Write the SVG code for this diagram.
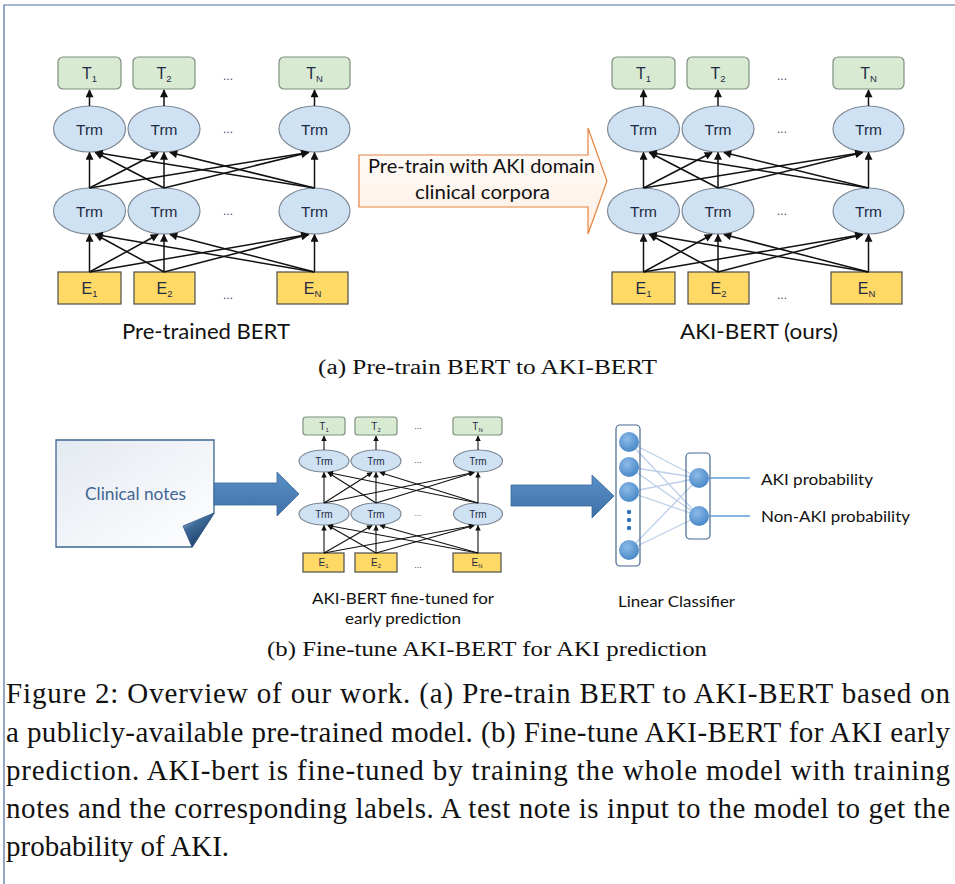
<svg xmlns="http://www.w3.org/2000/svg" width="955" height="884" viewBox="0 0 955 884">
<defs>
<style>
.trm{fill:#cfe2f3;stroke:#7d8894;stroke-width:1.2}
.tbox{fill:#d9ead3;stroke:#7f8f7f;stroke-width:1.2}
.ebox{fill:#ffd966;stroke:#4d4d4d;stroke-width:1.2}
.lbl{font-family:'Liberation Sans',Arial,sans-serif;fill:#1f2a44;text-anchor:middle}
.dots{font-family:'Liberation Sans',Arial,sans-serif;fill:#3a4560;text-anchor:middle}
.con{stroke:#111;stroke-width:1.5;fill:none;marker-end:url(#ah)}
.cons{stroke:#111;stroke-width:1.1;fill:none;marker-end:url(#ahs)}
.cal{font-family:Lato,'Open Sans',sans-serif;fill:#111}
.ser{font-family:'Liberation Serif','Times New Roman',serif;fill:#111}
.nn{fill:url(#nodeGrad)}
.edge{stroke:#bcd0ea;stroke-width:1.3}
.out{stroke:#5b9bd5;stroke-width:1.6}
.barrow{fill:url(#blueGrad);stroke:#3a679a;stroke-width:0.8}
</style>
<marker id="ah" viewBox="0 0 10 10" refX="9" refY="5" markerWidth="9" markerHeight="8" orient="auto" markerUnits="userSpaceOnUse"><path d="M0,0 L10,5 L0,10 z" fill="#111"/></marker>
<marker id="ahs" viewBox="0 0 10 10" refX="9" refY="5" markerWidth="6.5" markerHeight="5.5" orient="auto" markerUnits="userSpaceOnUse"><path d="M0,0 L10,5 L0,10 z" fill="#111"/></marker>
<linearGradient id="orangeFill" x1="0" y1="0" x2="0" y2="1"><stop offset="0" stop-color="#ffffff"/><stop offset="1" stop-color="#fdeee2"/></linearGradient>
<linearGradient id="noteFill" x1="0" y1="0" x2="1" y2="1"><stop offset="0" stop-color="#e4e9f1"/><stop offset="1" stop-color="#ffffff"/></linearGradient>
<linearGradient id="foldFill" x1="0" y1="0" x2="0.6" y2="1"><stop offset="0" stop-color="#dfe8f2"/><stop offset="0.4" stop-color="#3f6c9c"/><stop offset="1" stop-color="#1a3a5e"/></linearGradient>
<linearGradient id="blueGrad" x1="0" y1="0" x2="0" y2="1"><stop offset="0" stop-color="#5a8fc7"/><stop offset="1" stop-color="#3e71a7"/></linearGradient>
<radialGradient id="nodeGrad" cx="0.4" cy="0.35" r="0.7"><stop offset="0" stop-color="#8dbbe8"/><stop offset="1" stop-color="#4585c6"/></radialGradient>
</defs>
<rect width="955" height="884" fill="#fff"/>
<path d="M4,884 V5 H955" fill="none" stroke="#4f6f9f" stroke-width="1.2"/>

<!-- ===== (a) left BERT ===== -->
<g id="a-left-T1"><rect class="tbox" x="58" y="57" width="63" height="32" rx="5"/><text class="lbl" x="89.5" y="79" font-size="16">T<tspan font-size="9.5" dy="3">1</tspan></text></g>
<g id="a-left-T2"><rect class="tbox" x="133" y="57" width="62" height="32" rx="5"/><text class="lbl" x="164" y="79" font-size="16">T<tspan font-size="9.5" dy="3">2</tspan></text></g>
<g id="a-left-TN"><rect class="tbox" x="279" y="57" width="71" height="32" rx="5"/><text class="lbl" x="314.5" y="79" font-size="16">T<tspan font-size="9.5" dy="3">N</tspan></text></g>
<g id="a-left-up1"><ellipse class="trm" cx="89.5" cy="129" rx="36" ry="23"/><text class="lbl" x="89.5" y="134.5" font-size="15.5">Trm</text></g>
<g id="a-left-up2"><ellipse class="trm" cx="164" cy="129" rx="36" ry="23"/><text class="lbl" x="164" y="134.5" font-size="15.5">Trm</text></g>
<g id="a-left-upN"><ellipse class="trm" cx="314.5" cy="129" rx="35.5" ry="23"/><text class="lbl" x="314.5" y="134.5" font-size="15.5">Trm</text></g>
<g id="a-left-lo1"><ellipse class="trm" cx="89.5" cy="211" rx="36" ry="23"/><text class="lbl" x="89.5" y="216.5" font-size="15.5">Trm</text></g>
<g id="a-left-lo2"><ellipse class="trm" cx="164" cy="211" rx="36" ry="23"/><text class="lbl" x="164" y="216.5" font-size="15.5">Trm</text></g>
<g id="a-left-loN"><ellipse class="trm" cx="314.5" cy="211" rx="35.5" ry="23"/><text class="lbl" x="314.5" y="216.5" font-size="15.5">Trm</text></g>
<g id="a-left-E1"><rect class="ebox" x="58" y="272" width="63" height="32"/><text class="lbl" x="89.5" y="294" font-size="16">E<tspan font-size="9.5" dy="3">1</tspan></text></g>
<g id="a-left-E2"><rect class="ebox" x="134" y="272" width="61" height="32"/><text class="lbl" x="164.5" y="294" font-size="16">E<tspan font-size="9.5" dy="3">2</tspan></text></g>
<g id="a-left-EN"><rect class="ebox" x="277" y="272" width="71" height="32"/><text class="lbl" x="312.5" y="294" font-size="16">E<tspan font-size="9.5" dy="3">N</tspan></text></g>
<g id="a-left-dots" class="dots" font-size="12"><text x="228" y="80">...</text><text x="228" y="133">...</text><text x="228" y="215">...</text><text x="228" y="299">...</text></g>

<!-- ===== (a) right BERT ===== -->
<g id="a-right-T1"><rect class="tbox" x="612" y="57" width="63" height="32" rx="5"/><text class="lbl" x="643.5" y="79" font-size="16">T<tspan font-size="9.5" dy="3">1</tspan></text></g>
<g id="a-right-T2"><rect class="tbox" x="687" y="57" width="62" height="32" rx="5"/><text class="lbl" x="718" y="79" font-size="16">T<tspan font-size="9.5" dy="3">2</tspan></text></g>
<g id="a-right-TN"><rect class="tbox" x="833" y="57" width="71" height="32" rx="5"/><text class="lbl" x="868.5" y="79" font-size="16">T<tspan font-size="9.5" dy="3">N</tspan></text></g>
<g id="a-right-up1"><ellipse class="trm" cx="643.5" cy="129" rx="36" ry="23"/><text class="lbl" x="643.5" y="134.5" font-size="15.5">Trm</text></g>
<g id="a-right-up2"><ellipse class="trm" cx="718" cy="129" rx="36" ry="23"/><text class="lbl" x="718" y="134.5" font-size="15.5">Trm</text></g>
<g id="a-right-upN"><ellipse class="trm" cx="868.5" cy="129" rx="35.5" ry="23"/><text class="lbl" x="868.5" y="134.5" font-size="15.5">Trm</text></g>
<g id="a-right-lo1"><ellipse class="trm" cx="643.5" cy="211" rx="36" ry="23"/><text class="lbl" x="643.5" y="216.5" font-size="15.5">Trm</text></g>
<g id="a-right-lo2"><ellipse class="trm" cx="718" cy="211" rx="36" ry="23"/><text class="lbl" x="718" y="216.5" font-size="15.5">Trm</text></g>
<g id="a-right-loN"><ellipse class="trm" cx="868.5" cy="211" rx="35.5" ry="23"/><text class="lbl" x="868.5" y="216.5" font-size="15.5">Trm</text></g>
<g id="a-right-E1"><rect class="ebox" x="612" y="272" width="63" height="32"/><text class="lbl" x="643.5" y="294" font-size="16">E<tspan font-size="9.5" dy="3">1</tspan></text></g>
<g id="a-right-E2"><rect class="ebox" x="688" y="272" width="61" height="32"/><text class="lbl" x="718.5" y="294" font-size="16">E<tspan font-size="9.5" dy="3">2</tspan></text></g>
<g id="a-right-EN"><rect class="ebox" x="831" y="272" width="71" height="32"/><text class="lbl" x="866.5" y="294" font-size="16">E<tspan font-size="9.5" dy="3">N</tspan></text></g>
<g id="a-right-dots" class="dots" font-size="12"><text x="782" y="80">...</text><text x="782" y="133">...</text><text x="782" y="215">...</text><text x="782" y="299">...</text></g>

<!-- pre-train arrow -->
<g id="pretrain-arrow">
<path d="M359,155 H588 V128 L607,181 L588,234 V207 H359 Z" fill="url(#orangeFill)" stroke="#e8823f" stroke-width="1.2"/>
<text class="cal" x="481.5" y="173" font-size="19" text-anchor="middle" textLength="227" lengthAdjust="spacingAndGlyphs">Pre-train with AKI domain</text>
<text class="cal" x="482.5" y="198.5" font-size="19" text-anchor="middle" textLength="135" lengthAdjust="spacingAndGlyphs">clinical corpora</text>
</g>

<g id="a-labels">
<text class="cal" x="206" y="339" font-size="21" text-anchor="middle" textLength="168" lengthAdjust="spacingAndGlyphs">Pre-trained BERT</text>
<text class="cal" x="759" y="339" font-size="21" text-anchor="middle" textLength="158" lengthAdjust="spacingAndGlyphs">AKI-BERT (ours)</text>
<text class="ser" x="487.5" y="374" font-size="20" text-anchor="middle" textLength="339" lengthAdjust="spacingAndGlyphs">(a) Pre-train BERT to AKI-BERT</text>
</g>

<!-- ===== (b) ===== -->
<g id="clinical-notes">
<path d="M56,440 H214 V513 L192,547 H56 Z" fill="url(#noteFill)" stroke="#3b6590" stroke-width="1.3"/>
<path d="M183,526 L214,513 L192,547 Z" fill="url(#foldFill)" stroke="#2d5482" stroke-width="0.8"/>
<text class="cal" x="135.5" y="500" font-size="18" text-anchor="middle" style="fill:#3f6694" textLength="101" lengthAdjust="spacingAndGlyphs">Clinical notes</text>
</g>
<g id="arrow-to-bert"><path class="barrow" d="M214,483 H277 V472 L299,494 L277,516 V505 H214 Z"/></g>

<g id="b-T1"><rect class="tbox" x="303" y="417" width="42" height="18" rx="3"/><text class="lbl" x="324" y="430" font-size="10">T<tspan font-size="6" dy="2">1</tspan></text></g>
<g id="b-T2"><rect class="tbox" x="355" y="417" width="42" height="18" rx="3"/><text class="lbl" x="376" y="430" font-size="10">T<tspan font-size="6" dy="2">2</tspan></text></g>
<g id="b-TN"><rect class="tbox" x="453" y="417" width="49" height="18" rx="3"/><text class="lbl" x="477.5" y="430" font-size="10">T<tspan font-size="6" dy="2">N</tspan></text></g>
<g id="b-up1"><ellipse class="trm" cx="324" cy="461" rx="25" ry="11"/><text class="lbl" x="324" y="464.5" font-size="10">Trm</text></g>
<g id="b-up2"><ellipse class="trm" cx="376" cy="461" rx="25" ry="11"/><text class="lbl" x="376" y="464.5" font-size="10">Trm</text></g>
<g id="b-upN"><ellipse class="trm" cx="478" cy="461" rx="24.5" ry="11"/><text class="lbl" x="478" y="464.5" font-size="10">Trm</text></g>
<g id="b-lo1"><ellipse class="trm" cx="324" cy="514" rx="25" ry="11"/><text class="lbl" x="324" y="517.5" font-size="10">Trm</text></g>
<g id="b-lo2"><ellipse class="trm" cx="376" cy="514" rx="25" ry="11"/><text class="lbl" x="376" y="517.5" font-size="10">Trm</text></g>
<g id="b-loN"><ellipse class="trm" cx="478" cy="514" rx="24.5" ry="11"/><text class="lbl" x="478" y="517.5" font-size="10">Trm</text></g>
<g id="b-E1"><rect class="ebox" x="303" y="553" width="41" height="19"/><text class="lbl" x="323.5" y="566" font-size="10">E<tspan font-size="6" dy="2">1</tspan></text></g>
<g id="b-E2"><rect class="ebox" x="355" y="553" width="42" height="19"/><text class="lbl" x="376" y="566" font-size="10">E<tspan font-size="6" dy="2">2</tspan></text></g>
<g id="b-EN"><rect class="ebox" x="453" y="553" width="48" height="19"/><text class="lbl" x="477" y="566" font-size="10">E<tspan font-size="6" dy="2">N</tspan></text></g>
<g id="b-dots" class="dots" font-size="9"><text x="418" y="429">...</text><text x="418" y="463">...</text><text x="418" y="516" style="fill:#5c8c5c">...</text><text x="418" y="568">...</text></g>
<g id="b-bert-label">
<text class="cal" x="403" y="604" font-size="16" text-anchor="middle" textLength="182" lengthAdjust="spacingAndGlyphs">AKI-BERT fine-tuned for</text>
<text class="cal" x="403" y="624" font-size="16" text-anchor="middle" textLength="116" lengthAdjust="spacingAndGlyphs">early prediction</text>
</g>

<g id="arrow-to-classifier"><path class="barrow" d="M511,485 H592 V475 L614,496 L592,518 V506 H511 Z"/></g>

<g id="classifier-edges">
<line class="edge" x1="629" y1="442" x2="699" y2="478"/>
<line class="edge" x1="629" y1="442" x2="699" y2="516"/>
<line class="edge" x1="629" y1="467" x2="699" y2="478"/>
<line class="edge" x1="629" y1="467" x2="699" y2="516"/>
<line class="edge" x1="629" y1="492" x2="699" y2="478"/>
<line class="edge" x1="629" y1="492" x2="699" y2="516"/>
<line class="edge" x1="629" y1="550" x2="699" y2="478"/>
<line class="edge" x1="629" y1="550" x2="699" y2="516"/>
</g>
<g id="classifier-input">
<rect x="616" y="425" width="24" height="141" rx="4" fill="none" stroke="#46688f" stroke-width="1.2"/>
<circle class="nn" cx="629" cy="442" r="10"/>
<circle class="nn" cx="629" cy="467" r="10"/>
<circle class="nn" cx="629" cy="492" r="10"/>
<circle cx="629" cy="512" r="2.2" fill="#2e75b6"/>
<circle cx="629" cy="520" r="2.2" fill="#2e75b6"/>
<circle cx="629" cy="528" r="2.2" fill="#2e75b6"/>
<circle class="nn" cx="629" cy="550" r="10"/>
</g>
<g id="classifier-output">
<rect x="686" y="453" width="24" height="86" rx="4" fill="none" stroke="#46688f" stroke-width="1.2"/>
<circle class="nn" cx="699" cy="478" r="10"/>
<circle class="nn" cx="699" cy="516" r="10"/>
</g>
<g id="outputs">
<line class="out" x1="709" y1="478" x2="750" y2="478"/>
<line class="out" x1="709" y1="516" x2="750" y2="516"/>
<text class="cal" x="761" y="485" font-size="16" textLength="112" lengthAdjust="spacingAndGlyphs">AKI probability</text>
<text class="cal" x="761" y="522" font-size="16" textLength="149" lengthAdjust="spacingAndGlyphs">Non-AKI probability</text>
</g>
<g id="classifier-label"><text class="cal" x="618" y="607" font-size="16" textLength="117" lengthAdjust="spacingAndGlyphs">Linear Classifier</text></g>

<g id="connectors">
<path class="con" d="M89.5,106 V90"/><path class="con" d="M164,106 V90"/><path class="con" d="M314.5,106 V90"/>
<path class="con" d="M89.5,188 L89.5,152.5"/><path class="con" d="M89.5,188 L158,152.5"/><path class="con" d="M89.5,188 L308.5,152.5"/>
<path class="con" d="M164,188 L95.5,152.5"/><path class="con" d="M164,188 L164,152.5"/><path class="con" d="M164,188 L308.5,152.5"/>
<path class="con" d="M314.5,188 L95.5,152.5"/><path class="con" d="M314.5,188 L170,152.5"/><path class="con" d="M314.5,188 L314.5,152.5"/>
<path class="con" d="M89.5,272 L89.5,234.5"/><path class="con" d="M89.5,272 L158,234.5"/><path class="con" d="M89.5,272 L308.5,234.5"/>
<path class="con" d="M164,272 L95.5,234.5"/><path class="con" d="M164,272 L164,234.5"/><path class="con" d="M164,272 L308.5,234.5"/>
<path class="con" d="M314.5,272 L95.5,234.5"/><path class="con" d="M314.5,272 L170,234.5"/><path class="con" d="M314.5,272 L314.5,234.5"/>
<path class="con" d="M643.5,106 V90"/><path class="con" d="M718,106 V90"/><path class="con" d="M868.5,106 V90"/>
<path class="con" d="M643.5,188 L643.5,152.5"/><path class="con" d="M643.5,188 L712,152.5"/><path class="con" d="M643.5,188 L862.5,152.5"/>
<path class="con" d="M718,188 L649.5,152.5"/><path class="con" d="M718,188 L718,152.5"/><path class="con" d="M718,188 L862.5,152.5"/>
<path class="con" d="M868.5,188 L649.5,152.5"/><path class="con" d="M868.5,188 L724,152.5"/><path class="con" d="M868.5,188 L868.5,152.5"/>
<path class="con" d="M643.5,272 L643.5,234.5"/><path class="con" d="M643.5,272 L712,234.5"/><path class="con" d="M643.5,272 L862.5,234.5"/>
<path class="con" d="M718,272 L649.5,234.5"/><path class="con" d="M718,272 L718,234.5"/><path class="con" d="M718,272 L862.5,234.5"/>
<path class="con" d="M868.5,272 L649.5,234.5"/><path class="con" d="M868.5,272 L724,234.5"/><path class="con" d="M868.5,272 L868.5,234.5"/>
<path class="cons" d="M324,450 V436"/><path class="cons" d="M376,450 V436"/><path class="cons" d="M478,450 V436"/>
<path class="cons" d="M324,503 L324,472.5"/><path class="cons" d="M324,503 L372,472.5"/><path class="cons" d="M324,503 L474,472.5"/>
<path class="cons" d="M376,503 L328,472.5"/><path class="cons" d="M376,503 L376,472.5"/><path class="cons" d="M376,503 L474,472.5"/>
<path class="cons" d="M478,503 L328,472.5"/><path class="cons" d="M478,503 L380,472.5"/><path class="cons" d="M478,503 L478,472.5"/>
<path class="cons" d="M324,553 L324,525.5"/><path class="cons" d="M324,553 L372,525.5"/><path class="cons" d="M324,553 L474,525.5"/>
<path class="cons" d="M376,553 L328,525.5"/><path class="cons" d="M376,553 L376,525.5"/><path class="cons" d="M376,553 L474,525.5"/>
<path class="cons" d="M478,553 L328,525.5"/><path class="cons" d="M478,553 L380,525.5"/><path class="cons" d="M478,553 L478,525.5"/>
</g>

<g id="captions">
<text class="ser" x="487" y="656" font-size="20" text-anchor="middle" textLength="440" lengthAdjust="spacingAndGlyphs">(b) Fine-tune AKI-BERT for AKI prediction</text>
<text class="ser" x="6" y="703" font-size="29" textLength="944" lengthAdjust="spacing">Figure 2: Overview of our work. (a) Pre-train BERT to AKI-BERT based on</text>
<text class="ser" x="6" y="742" font-size="29" textLength="944" lengthAdjust="spacing">a publicly-available pre-trained model. (b) Fine-tune AKI-BERT for AKI early</text>
<text class="ser" x="6" y="780" font-size="29" textLength="944" lengthAdjust="spacing">prediction. AKI-bert is fine-tuned by training the whole model with training</text>
<text class="ser" x="6" y="818" font-size="29" textLength="944" lengthAdjust="spacing">notes and the corresponding labels. A test note is input to the model to get the</text>
<text class="ser" x="6" y="856" font-size="29">probability of AKI.</text>
</g>
</svg>
